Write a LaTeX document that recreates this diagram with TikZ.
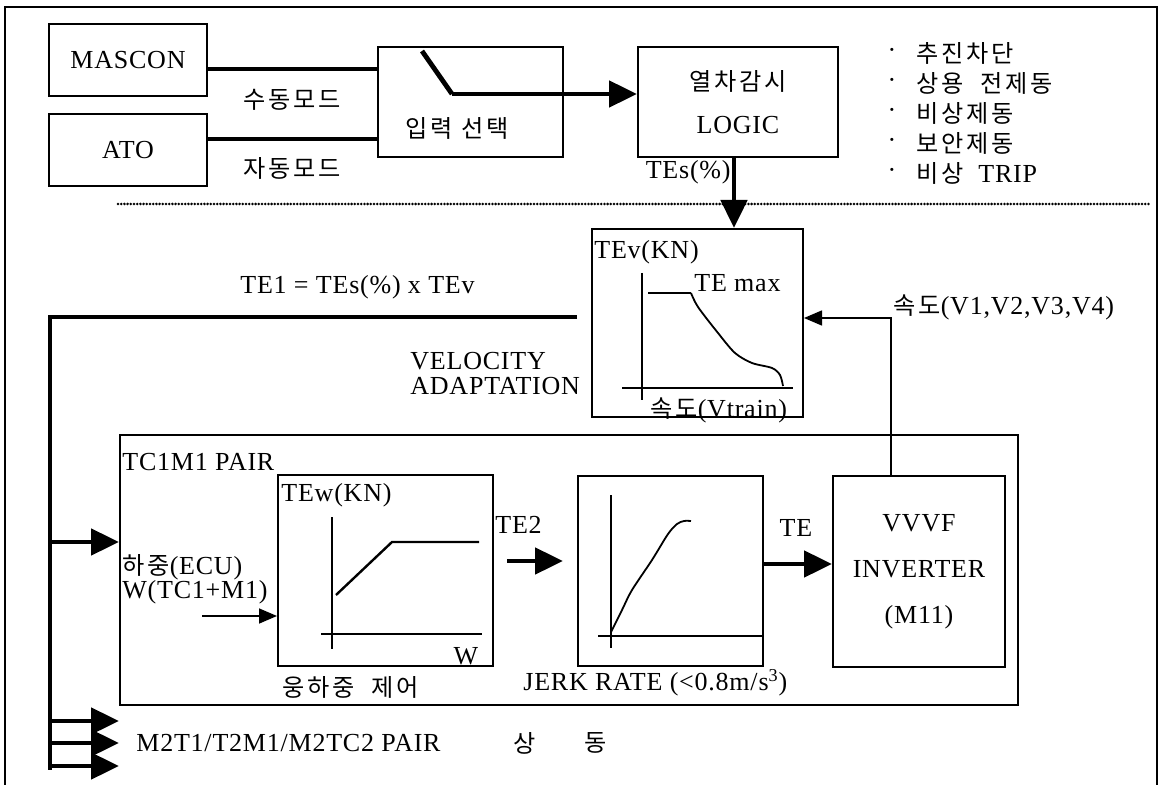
\documentclass[tikz,border=0pt]{standalone}
\usepackage{fontspec}
\setmainfont{Liberation Serif}[LetterSpace=3]
\newfontfamily\kr{Noto Sans CJK KR}[LetterSpace=12,Scale=0.93]
\usetikzlibrary{arrows.meta,positioning,calc}

\begin{document}
\begin{tikzpicture}[x=0.5pt,y=-0.5pt,
  every node/.style={font=\fontsize{13pt}{12.5pt}\selectfont,inner sep=0pt},
  blk/.style={draw,line width=1pt,inner sep=0pt},
  bus/.style={line width=2.4pt},
  busarr/.style={line width=2.4pt,-{Triangle[length=14pt,width=13pt]}},
  thinarr/.style={line width=0.8pt,-{Triangle[length=9pt,width=7.5pt]}},
  axis/.style={line width=1.2pt},
  curve/.style={line width=0.9pt}]
\useasboundingbox (0,0) rectangle (1160,785);
% frame
\draw[line width=0.8pt] (5,785) -- (5,7) -- (1157,7) -- (1157,785);
% mode select
\node[blk,minimum width=79pt,minimum height=36pt] (mascon) at (128,60) {MASCON};
\node[blk,minimum width=79pt,minimum height=36pt] (ato) at (128,150) {ATO};
\node[blk,minimum width=92.5pt,minimum height=55pt] (insel) at (470.5,102) {};
\node (inseltxt) at (457,128) {\kr 입력 선택};
\node[blk,minimum width=100pt,minimum height=55pt,align=center] (logic) at (738,102) {{\kr 열차감시}\\[9pt]LOGIC};
\coordinate (m) at ([yshift=-4.5pt]mascon.east);
\coordinate (a) at ([yshift=5.5pt]ato.east);
\draw[bus] (m) -- (m -| insel.west);
\draw[bus] (a) -- (a -| insel.west);
\node (manual) at (292,100) {\kr 수동모드};
\node (auto) at (292,168) {\kr 자동모드};
\coordinate (swtop) at (422,51);
\coordinate (sw) at (452,94);
\draw[bus] (swtop) -- (sw);
\draw[busarr] (sw) -- (sw -| logic.west);
% monitor outputs
\foreach \t [count=\i] in {추진차단,상용 \ 전제동,비상제동,보안제동} {
  \node (dot\i) at (892,23+30*\i) {·};
  \node[anchor=west] (cut\i) at (916,23+30*\i) {\kr \t};
}
\node (dot5) at (892,173) {·};
\node[anchor=west] (cut5) at (916,173) {{\kr 비상}\ \ TRIP};
\draw[line width=1.4pt,line cap=round,dash pattern=on 0pt off 1.6pt] (118,204) -- (1150,204);
% velocity adaptation
\node[blk,minimum width=105.5pt,minimum height=94pt] (tev) at (697.5,323) {};
\coordinate (tes) at ([xshift=-2pt]logic.south);
\draw[busarr] (tes) -- (tes |- tev.north);
\node[anchor=east] (teslbl) at (731,172) {TEs(\%)};
\draw[axis] (642,273) -- (642,400);
\draw[axis] (622,388) -- (793,388);
\draw[line width=1.4pt] (648,293) -- (691,293);
\draw[curve] plot[smooth] coordinates {(691,293) (698,307) (718,333) (735,353) (752,363) (772,368) (780,375) (783,386)};
\node[anchor=west] (tevlbl) at (594,252) {TEv(KN)};
\node[anchor=west] (tmax) at (694,283) {TE max};
\node[anchor=west] (vtrain) at (650,410) {{\kr 속도}(Vtrain)};
\node[anchor=west,align=left] (vadapt) at (410,374) {VELOCITY\\ADAPTATION};
\node[anchor=west] (te1) at (240,287) {TE1 = TEs(\%) x TEv};
\coordinate (busR) at (577,317);
\coordinate (busL) at (50,317);
\coordinate (busB) at (50,770);
\draw[bus] (busR) -- (busL) -- (busB);
% TC1M1 pair
\node[blk,minimum width=449pt,minimum height=135pt] (pair) at (569,570) {};
\node[anchor=west] (pairlbl) at (122,462) {TC1M1 PAIR};
\coordinate (b0) at (50,542);
\draw[busarr] (b0) -- (b0 -| pair.west);
\node[anchor=west] (loadlbl) at (122,567) {{\kr 하중}(ECU)};
\node[anchor=west] (wlbl) at (122,592) {W(TC1+M1)};
\node[blk,minimum width=107.5pt,minimum height=95.5pt] (tew) at (385.5,570.5) {};
\coordinate (win) at (202,616);
\draw[thinarr] (win) -- (win -| tew.west);
\draw[axis] (332,517) -- (332,649);
\draw[axis] (321,634) -- (482,634);
\draw[axis] (336,595) -- (392,542) -- (479,542);
\node[anchor=west] (tewlbl) at (281,495) {TEw(KN)};
\node (wax) at (466,656) {W};
\node[anchor=west] (tewtxt) at (282,687) {\kr 웅하중 \ 제어};
\node[anchor=west] (te2lbl) at (495,525) {TE2};
\coordinate (t2a) at (507,561);
\coordinate (t2b) at (563,561);
\draw[busarr] (t2a) -- (t2b);
\node[blk,minimum width=92.5pt,minimum height=95pt] (jerk) at (670.5,571) {};
\draw[axis] (611,495) -- (611,648);
\draw[axis] (598,636) -- (763,636);
\draw[curve] plot[smooth] coordinates {(611,632) (622,610) (632,590) (652,560) (668,534) (677,524) (684,521) (691,521)};
\node[anchor=west] (jerklbl) at (523,683) {JERK RATE (<0.8m/s\textsuperscript{3})};
\node[blk,minimum width=86pt,minimum height=95.5pt,align=center] (vvvf) at (919,571.5) {VVVF\\[10.5pt]INVERTER\\[10.5pt](M11)};
\coordinate (te) at ([yshift=3.5pt]jerk.east);
\draw[busarr] (te) -- (te -| vvvf.west);
\node (telbl) at (796,528) {TE};
\coordinate (fb) at ([xshift=-14pt]vvvf.north);
\coordinate (fbk) at (891,318);
\draw[thinarr] (fb) -- (fbk) -- (fbk -| tev.east);
\node[anchor=west] (vlbl) at (893,307) {{\kr 속도}(V1,V2,V3,V4)};
% other pairs
\foreach \y [count=\i] in {721,743,766} {
  \coordinate (o\i) at (50,\y);
  \draw[busarr] (o\i) -- (o\i -| pair.west);
}
\node[anchor=west] (restlbl) at (136,743) {M2T1/T2M1/M2TC2 PAIR};
\node (same1) at (525,743) {\kr 상};
\node (same2) at (596,743) {\kr 동};
\end{tikzpicture}
\end{document}
